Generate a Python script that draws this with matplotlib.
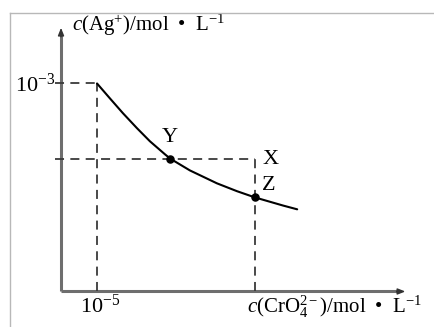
import matplotlib
matplotlib.use("Agg")
import matplotlib.pyplot as plt
from matplotlib.lines import Line2D

plt.rcParams["mathtext.fontset"] = "custom"
plt.rcParams["mathtext.rm"] = "Liberation Serif"
plt.rcParams["mathtext.it"] = "Liberation Serif:italic"
plt.rcParams["mathtext.bf"] = "Liberation Serif:bold"
plt.rcParams["font.family"] = ["Liberation Serif", "DejaVu Serif"]

# c(CrO4^2-) in units of 1e-5 mol/L, c(Ag+) in units of 1e-3 mol/L
crO4 = [1.0, 1.36, 1.72, 2.11, 2.47, 2.89, 3.03, 3.58, 4.33, 4.89, 5.39, 6.17, 6.56]
ag = [1.0, 0.928, 0.857, 0.785, 0.722, 0.659, 0.639, 0.582, 0.520, 0.482, 0.452, 0.413, 0.395]

point_names = ["Y", "X", "Z"]
point_x = [3.03, 5.39, 5.39]
point_y = [0.639, 0.639, 0.452]

x_tick = [1.0]
x_tick_labels = [r"$10^{-5}$"]
y_tick = [1.0]
y_tick_labels = [r"$10^{-3}$"]

fig = plt.figure(figsize=(4.34, 3.27), dpi=100)
ax = fig.add_axes([0.1406, 0.1086, 0.871, 0.827])
ax.set_xlim(0, 10.5)
ax.set_ylim(0, 1.30)
ax.axis("off")

# outer frame lines (top and left)
fig.add_artist(Line2D([10 / 434, 1.0], [1 - 13 / 327, 1 - 13 / 327],
                      color="#b8b8b8", lw=1.0, transform=fig.transFigure))
fig.add_artist(Line2D([10 / 434, 10 / 434], [0.0, 1 - 13 / 327],
                      color="#b8b8b8", lw=1.0, transform=fig.transFigure))

x_end, y_end = 9.64, 1.281
axis_color = "#6e6e6e"
ax.plot([0, 0], [0, y_end - 0.04], color=axis_color, lw=2.2, clip_on=False, solid_capstyle="butt")
ax.plot([0, x_end - 0.2], [0, 0], color=axis_color, lw=2.2, clip_on=False, solid_capstyle="butt")
ax.annotate("", xy=(0, y_end), xytext=(0, y_end - 0.07),
            arrowprops=dict(arrowstyle="-|>,head_length=0.45,head_width=0.18",
                            color="#333333", lw=1.0), annotation_clip=False)
ax.annotate("", xy=(x_end, 0), xytext=(x_end - 0.4, 0),
            arrowprops=dict(arrowstyle="-|>,head_length=0.45,head_width=0.18",
                            color="#333333", lw=1.0), annotation_clip=False)

dash = dict(color="#3a3a3a", lw=1.3, linestyle=(0, (5, 3.5)), clip_on=False)
# guide lines to the start of the curve
ax.plot([-0.17, crO4[0]], [ag[0], ag[0]], **dash)
ax.plot([crO4[0], crO4[0]], [0, ag[0]], **dash)
# guide lines through Y and X down to Z
ax.plot([-0.17, point_x[1]], [point_y[1], point_y[1]], **dash)
ax.plot([point_x[1], point_x[1]], [0, point_y[1]], **dash)

ax.plot(crO4, ag, color="black", lw=1.5, solid_capstyle="round", solid_joinstyle="round")
ax.scatter([point_x[0], point_x[2]], [point_y[0], point_y[2]], s=26, color="black", zorder=5)

ax.text(point_x[0], point_y[0] + 0.055, point_names[0], fontsize=16, ha="center", va="bottom")
ax.text(point_x[1] + 0.2, point_y[1] - 0.005, point_names[1], fontsize=16, ha="left", va="center")
ax.text(point_x[2] + 0.2, point_y[2] + 0.01, point_names[2], fontsize=16, ha="left", va="bottom")

for xv, lab in zip(x_tick, x_tick_labels):
    ax.text(xv - 0.47, -0.07, lab, fontsize=16, ha="left", va="center")
for yv, lab in zip(y_tick, y_tick_labels):
    ax.text(-0.17, yv - 0.01, lab, fontsize=16, ha="right", va="center")

ax.text(0.306, y_end, "$c\\mathrm{(Ag^{+})/mol\\ \\ \u2022\\ \\ L^{-1}}$",
        fontsize=15, ha="left", va="center")
ax.text(10.03, -0.075, "$c\\mathrm{(CrO_4^{2-})/mol\\ \\ \u2022\\ \\ L^{-1}}$",
        fontsize=15, ha="right", va="center")

fig.savefig("out.png", dpi=100)
